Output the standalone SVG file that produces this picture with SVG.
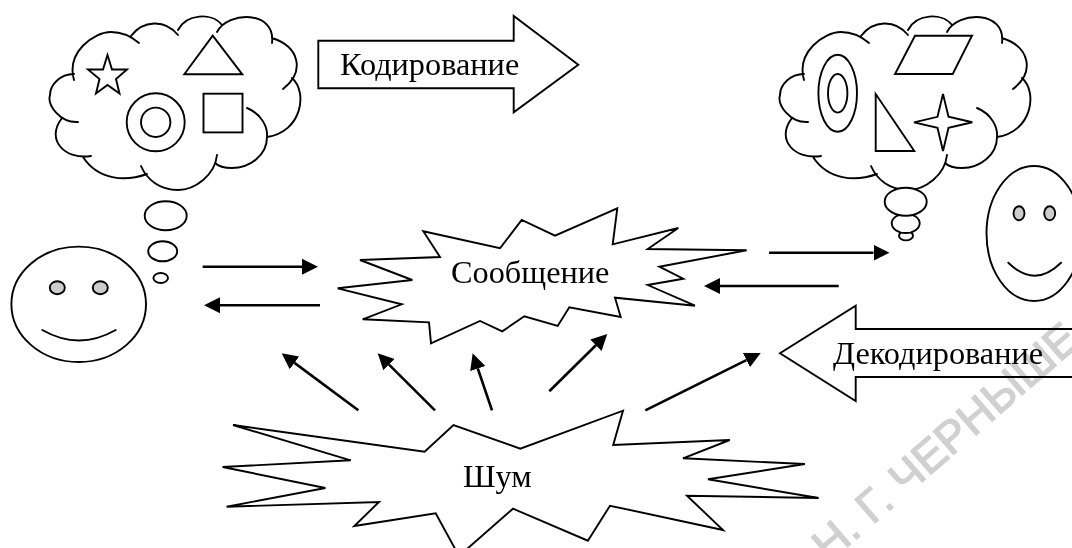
<svg xmlns="http://www.w3.org/2000/svg" xmlns:xlink="http://www.w3.org/1999/xlink" width="1072" height="548" viewBox="0 0 1072 548">
<style>
.s{fill:#fff;stroke:#000;stroke-width:1.9;stroke-linejoin:miter}
.n{fill:none;stroke:#000;stroke-width:1.9;stroke-linecap:round}
.e{fill:#ccc;stroke:#000;stroke-width:1.9}
.t{font-family:"Liberation Serif","Times New Roman",serif;font-size:32.3px;fill:#000}
.a{fill:none;stroke:#000;stroke-width:2.6;marker-end:url(#h)}
.w{font-family:"Liberation Sans",Arial,sans-serif;font-size:45px;fill:#d0d0d0;stroke:#d0d0d0;stroke-width:1.3}
</style>
<defs>
<marker id="h" markerUnits="userSpaceOnUse" markerWidth="16" markerHeight="17" viewBox="0 -8.5 16 17" refX="0" refY="0" orient="auto"><path d="M0,-8L16,0L0,8Z" fill="#000"/></marker>
<path id="cloud" class="n" d="M74,80C66,52 94,32 111,32C123,32 132,37 139,43M131,36C143,20 165,19 178,35M178,30C186,14 212,12 222,25M217,32C228,11 276,10 272,43M272,38C300,47 305,72 283,89M292,78C308,92 302,132 267,137M247,108C262,114 268,128 267,137C267,155 250,168 232,168C225,168 218,166 215,163M217,155C215,175 195,190 178,190C160,190 147,180 141,166M147,174C125,182 98,180 83,157M91,156C65,160 45,140 62,118M78,122C60,123 47,105 50,95C50,85 60,74 74,74"/>
</defs>
<rect width="1072" height="548" fill="#fff"/>
<g id="thought-left">
<use xlink:href="#cloud" href="#cloud"/>
<polygon class="s" points="107.5,55 112,69.5 127,69.5 116,79 119.5,93.5 107.5,85 96,93.5 99.5,79 88,69.5 103,69.5"/>
<polygon class="s" points="212.7,35.7 242.3,74.3 184.3,74.3"/>
<circle class="s" cx="155.7" cy="122.3" r="29"/>
<circle class="s" cx="155.7" cy="122.3" r="14.7"/>
<rect class="s" x="203.5" y="93.7" width="39" height="38.7"/>
<ellipse class="s" cx="165.7" cy="215.7" rx="21" ry="14.5"/>
<ellipse class="s" cx="162.7" cy="251.3" rx="14.5" ry="10"/>
<ellipse class="s" cx="160.7" cy="278" rx="7.3" ry="5"/>
</g>
<g id="thought-right">
<use xlink:href="#cloud" href="#cloud" x="730"/>
<ellipse class="s" cx="837.7" cy="93.3" rx="19.3" ry="38.5"/>
<ellipse class="s" cx="837.7" cy="93.3" rx="9.7" ry="19.3"/>
<polygon class="s" points="915,35.7 972,35.7 952.7,74 895,74"/>
<polygon class="s" points="875.7,94 875.7,151 914.3,151"/>
<polygon class="s" points="943,94 948.5,116.8 972.3,122.3 948.5,127.8 943,151 937.5,127.8 914,122.3 937.5,116.8"/>
<ellipse class="s" cx="906" cy="235.7" rx="7" ry="4.7"/>
<ellipse class="s" cx="905.7" cy="223.3" rx="14" ry="9.7"/>
<ellipse class="s" cx="905.7" cy="201.7" rx="21" ry="14"/>
</g>
<g id="sender">
<ellipse class="s" cx="78.7" cy="304.3" rx="67.3" ry="57.7"/>
<ellipse class="e" cx="57.3" cy="287.7" rx="7.5" ry="6.5"/>
<ellipse class="e" cx="100.3" cy="287.7" rx="7.5" ry="6.5"/>
<path class="n" d="M42.3,330Q79,351 115.7,330"/>
</g>
<g id="receiver">
<ellipse class="s" cx="1034" cy="233.5" rx="47.5" ry="67.5"/>
<ellipse class="e" cx="1019" cy="213.3" rx="5.5" ry="7"/>
<ellipse class="e" cx="1049.7" cy="213.3" rx="5.5" ry="7"/>
<path class="n" d="M1008.3,262.7Q1034.6,288.7 1061,262.7"/>
</g>
<g id="encoding">
<polygon class="s" points="318.3,40.7 513.7,40.7 513.7,16 578.3,64.7 513.7,112.3 513.7,88.3 318.3,88.3"/>
<text class="t" x="340" y="75">Кодирование</text>
</g>
<g id="decoding">
<polygon class="s" points="1090,329 855.7,329 855.7,305.7 780,353.3 855.7,401 855.7,377 1090,377"/>
<text class="t" x="833" y="364">Декодирование</text>
</g>
<g id="message">
<polygon class="s" points="337.7,288.3 412.3,280 360,260 440,257 423.3,231.3 500,248.3 521.7,220 555,235.7 617.3,208.3 612.7,244.3 678.3,228 647.7,249 746.7,250.3 659.3,266.7 683.3,278.7 647.7,285 695,305.7 615,297.7 620.7,317 569.3,307.3 557.7,326 524.3,316.3 502.3,331.3 480,321 431,343.3 429,322.3 362.7,319.3 401.7,304.3"/>
<text class="t" x="451" y="283">Сообщение</text>
</g>
<g id="noise">
<polygon class="s" points="233,425 424.6,451.7 453.5,425 520.3,448.7 623,410.7 613.2,445 729.8,440 683,458.3 804.9,464 708,479.3 818.7,498 687,495.7 723,530 610,505.7 587.9,540.7 513,508.7 459,556 435.7,513.3 354.3,526 379,502 226.6,506.7 325.4,488 222.6,467 350.7,460.3"/>
<text class="t" x="463" y="487">Шум</text>
</g>
<g id="connectors">
<path class="a" d="M202.7,266.7H302"/>
<path class="a" d="M320,305.3H220"/>
<path class="a" d="M769,252.7H873.5"/>
<path class="a" d="M838.7,286H720"/>
<path class="a" d="M358.3,410.3L294.5,362.9"/>
<path class="a" d="M435,410.3L389,364.6"/>
<path class="a" d="M492,410.3L477.8,368.5"/>
<path class="a" d="M549.3,391.3L595.9,345.3"/>
<path class="a" d="M645.3,410.3L746.4,360.1"/>
</g>
<text class="w" transform="translate(829,563) rotate(-41)" style="mix-blend-mode:multiply">Н. Г. ЧЕРНЫШЕ</text>
</svg>
